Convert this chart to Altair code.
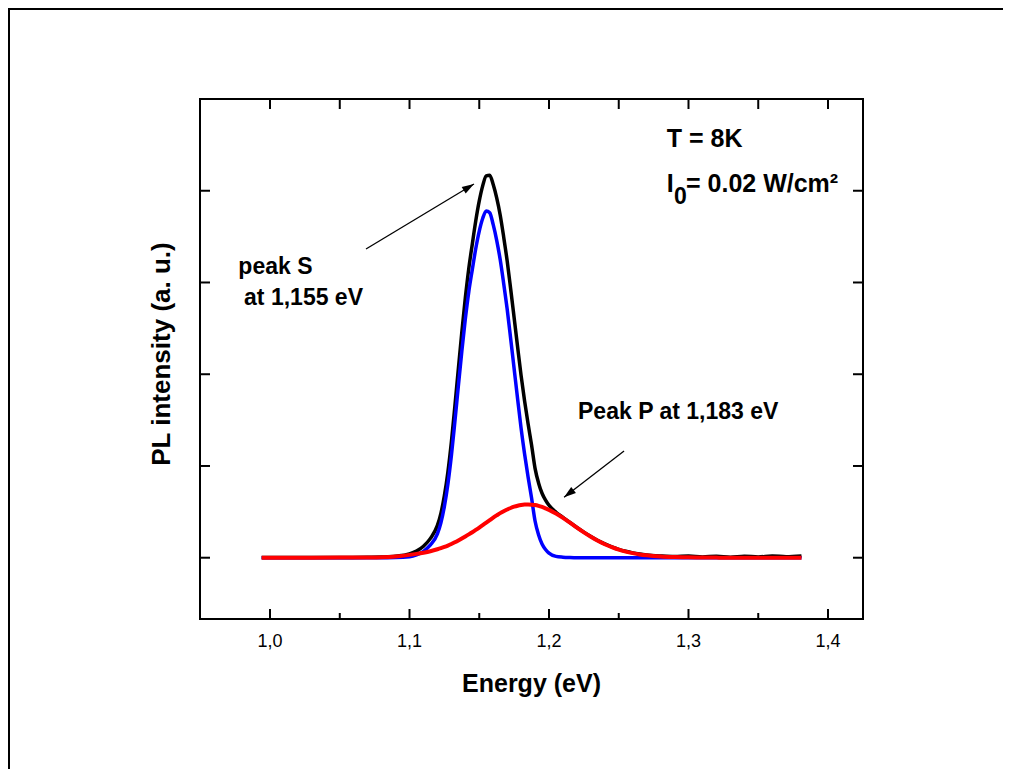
import altair as alt
import pandas as pd

# ---------------- data ----------------
energy = [0.994, 1.01, 1.03, 1.05, 1.07, 1.08, 1.09, 1.10, 1.105, 1.11, 1.115, 1.12,
          1.1225, 1.125, 1.1275, 1.13, 1.1325, 1.135, 1.1375, 1.14, 1.1425, 1.145,
          1.1475, 1.15, 1.1525, 1.155, 1.1575, 1.16, 1.1625, 1.165, 1.1675, 1.17,
          1.1725, 1.175, 1.1775, 1.18, 1.1825, 1.185, 1.1875, 1.19, 1.1925, 1.195,
          1.1975, 1.20, 1.205, 1.21, 1.215, 1.22, 1.225, 1.23, 1.235, 1.24, 1.245,
          1.25, 1.255, 1.26, 1.265, 1.27, 1.28, 1.29, 1.30, 1.31, 1.32, 1.33, 1.34,
          1.35, 1.36, 1.37, 1.381]

pl_measured = [0.002, 0.001, 0.003, 0.002, 0.005, 0.008, 0.016, 0.041, 0.072, 0.125,
               0.211, 0.352, 0.484, 0.677, 0.932, 1.259, 1.648, 2.058, 2.459, 2.831,
               3.154, 3.418, 3.673, 3.889, 4.056, 4.163, 4.170, 4.067, 3.922, 3.736,
               3.497, 3.236, 2.932, 2.616, 2.297, 1.985, 1.709, 1.460, 1.228, 0.974,
               0.815, 0.703, 0.628, 0.572, 0.496, 0.440, 0.384, 0.330, 0.279, 0.231,
               0.187, 0.150, 0.118, 0.091, 0.070, 0.053, 0.040, 0.030, 0.019, 0.013,
               0.018, 0.008, 0.016, 0.006, 0.017, 0.009, 0.019, 0.011, 0.020]

fit_peak_s = [0, 0, 0, 0, 0, 0, 0.001, 0.010, 0.030, 0.070, 0.140, 0.260, 0.380,
              0.560, 0.800, 1.110, 1.480, 1.870, 2.250, 2.600, 2.900, 3.140, 3.370,
              3.560, 3.700, 3.780, 3.760, 3.630, 3.460, 3.250, 2.990, 2.710, 2.390,
              2.060, 1.730, 1.410, 1.130, 0.880, 0.650, 0.400, 0.250, 0.150, 0.090,
              0.050, 0.015, 0.006, 0.002, 0, 0, 0, 0, 0, 0, 0, 0, 0, 0, 0, 0, 0, 0,
              0, 0, 0, 0, 0, 0, 0, 0]

fit_peak_p = [0, 0, 0, 0.001, 0.003, 0.006, 0.014, 0.031, 0.042, 0.055, 0.071, 0.092,
              0.104, 0.117, 0.132, 0.149, 0.168, 0.188, 0.209, 0.231, 0.254, 0.278,
              0.303, 0.329, 0.356, 0.383, 0.410, 0.437, 0.462, 0.486, 0.507, 0.526,
              0.542, 0.556, 0.567, 0.575, 0.579, 0.580, 0.578, 0.574, 0.565, 0.553,
              0.538, 0.522, 0.481, 0.434, 0.382, 0.328, 0.276, 0.228, 0.184, 0.147,
              0.115, 0.088, 0.067, 0.050, 0.036, 0.026, 0.013, 0.007, 0.004, 0.002,
              0.001, 0, 0, 0, 0, 0, 0]

x_major_ticks = [1.0, 1.1, 1.2, 1.3, 1.4]
x_tick_labels = ["1,0", "1,1", "1,2", "1,3", "1,4"]
x_minor_ticks = [1.05, 1.15, 1.25, 1.35]
x_top_ticks = [1.0, 1.05, 1.1, 1.15, 1.2, 1.25, 1.3, 1.35, 1.4]
y_ticks = [0, 1, 2, 3, 4]

x_title = "Energy (eV)"
y_title = "PL intensity (a. u.)"

ann_text = ["peak S", "at 1,155 eV", "Peak P at 1,183 eV", "T = 8K", "I", "0", "= 0.02 W/cm²"]
ann_x = [0.9773, 0.9814, 1.2208, 1.2844, 1.2844, 1.2896, 1.2982]
ann_y = [3.089, 2.754, 1.512, 4.48, 3.989, 3.855, 3.989]
ann_size = [23, 23, 23, 25, 25, 23, 25]

arrow_x = [1.0688, 1.2538]
arrow_y = [3.365, 1.163]
arrow_x2 = [1.1462, 1.2108]
arrow_y2 = [4.073, 0.658]
arrow_angle = [59, 232.3]

# ---------------- layout ----------------
FONT = "Liberation Sans"
W, H = 663, 520
PAD_L, PAD_T, PAD_R, PAD_B = 192, 91, 140, 150
TOTAL_W, TOTAL_H = PAD_L + W + PAD_R, PAD_T + H + PAD_B

xs = alt.Scale(domain=[0.9498, 1.4251], nice=False, zero=False)
ys = alt.Scale(domain=[-0.668, 5.0], nice=False, zero=False)

curves = pd.DataFrame({"E": energy, "meas": pl_measured, "S": fit_peak_s, "P": fit_peak_p})
base = alt.Chart(curves)


def curve(field, color, width):
    return base.mark_line(color=color, strokeWidth=width, interpolate="monotone").encode(
        x=alt.X("E:Q", scale=xs, axis=None),
        y=alt.Y(f"{field}:Q", scale=ys, axis=None))


line_meas = curve("meas", "black", 3.5)
line_s = curve("S", "#0000ff", 3.5)
line_p = curve("P", "#ff0000", 4)


def xticks(vals, y0, y1):
    return alt.Chart(pd.DataFrame({"t": vals})).mark_rule(color="black", strokeWidth=2).encode(
        x=alt.X("t:Q", scale=xs, axis=None), y=alt.value(y0), y2=alt.value(y1))


def yticks(vals, x0, x1):
    return alt.Chart(pd.DataFrame({"t": vals})).mark_rule(color="black", strokeWidth=2).encode(
        y=alt.Y("t:Q", scale=ys, axis=None), x=alt.value(x0), x2=alt.value(x1))


ticks = [
    xticks(x_major_ticks, H, H - 10),
    xticks(x_minor_ticks, H, H - 6),
    xticks(x_top_ticks, 0, 10),
    yticks(y_ticks, 0, 10),
    yticks(y_ticks, W, W - 10),
]

tick_labels = alt.Chart(pd.DataFrame({"t": x_major_ticks, "lab": x_tick_labels})).mark_text(
    align="center", baseline="alphabetic", font=FONT, fontSize=18, color="black").encode(
    x=alt.X("t:Q", scale=xs, axis=None), y=alt.value(H + 28), text="lab:N")

one = pd.DataFrame({"a": [0]})
x_title_mark = alt.Chart(one).mark_text(
    text=x_title, align="center", baseline="alphabetic", font=FONT, fontSize=25,
    fontWeight="bold", color="black").encode(x=alt.value(W / 2), y=alt.value(H + 73))
y_title_mark = alt.Chart(one).mark_text(
    text=y_title, align="center", baseline="alphabetic", font=FONT, fontSize=26,
    fontWeight="bold", color="black", angle=270).encode(x=alt.value(-30), y=alt.value(255))

arrows_df = pd.DataFrame({"ax": arrow_x, "ay": arrow_y, "ax2": arrow_x2, "ay2": arrow_y2,
                          "ang": arrow_angle})
arrow_lines = alt.Chart(arrows_df).mark_rule(color="black", strokeWidth=1.3).encode(
    x=alt.X("ax:Q", scale=xs, axis=None), y=alt.Y("ay:Q", scale=ys, axis=None),
    x2="ax2:Q", y2="ay2:Q")
arrow_heads = alt.Chart(arrows_df).mark_point(
    shape="M0,0L0.65,2L-0.65,2Z", filled=True, color="black", opacity=1, size=144,
    strokeWidth=0).encode(
    x=alt.X("ax2:Q", scale=xs, axis=None), y=alt.Y("ay2:Q", scale=ys, axis=None),
    angle=alt.Angle("ang:Q", scale=None))

ann_df = pd.DataFrame({"label": ann_text, "tx": ann_x, "ty": ann_y, "fs": ann_size})
annotations = alt.Chart(ann_df).mark_text(
    align="left", baseline="alphabetic", font=FONT, fontWeight="bold", color="black").encode(
    x=alt.X("tx:Q", scale=xs, axis=None), y=alt.Y("ty:Q", scale=ys, axis=None),
    text="label:N", size=alt.Size("fs:Q", scale=None))

frame_left = alt.Chart(one).mark_rule(color="black", strokeWidth=2).encode(
    x=alt.value(-PAD_L + 1), y=alt.value(-PAD_T), y2=alt.value(TOTAL_H - PAD_T))
frame_top = alt.Chart(one).mark_rule(color="black", strokeWidth=2).encode(
    y=alt.value(-PAD_T + 1), x=alt.value(-PAD_L), x2=alt.value(TOTAL_W - PAD_L))

chart = alt.layer(
    frame_left, frame_top, *ticks, tick_labels, x_title_mark, y_title_mark,
    line_meas, line_s, line_p, arrow_lines, arrow_heads, annotations,
).properties(
    width=W, height=H,
    padding={"left": PAD_L, "top": PAD_T, "right": PAD_R, "bottom": PAD_B},
    autosize=alt.AutoSizeParams(type="none"),
    background="white",
).configure_view(stroke="black", strokeWidth=2)

chart.save("out.html", embed_options={"renderer": "svg", "actions": False})
